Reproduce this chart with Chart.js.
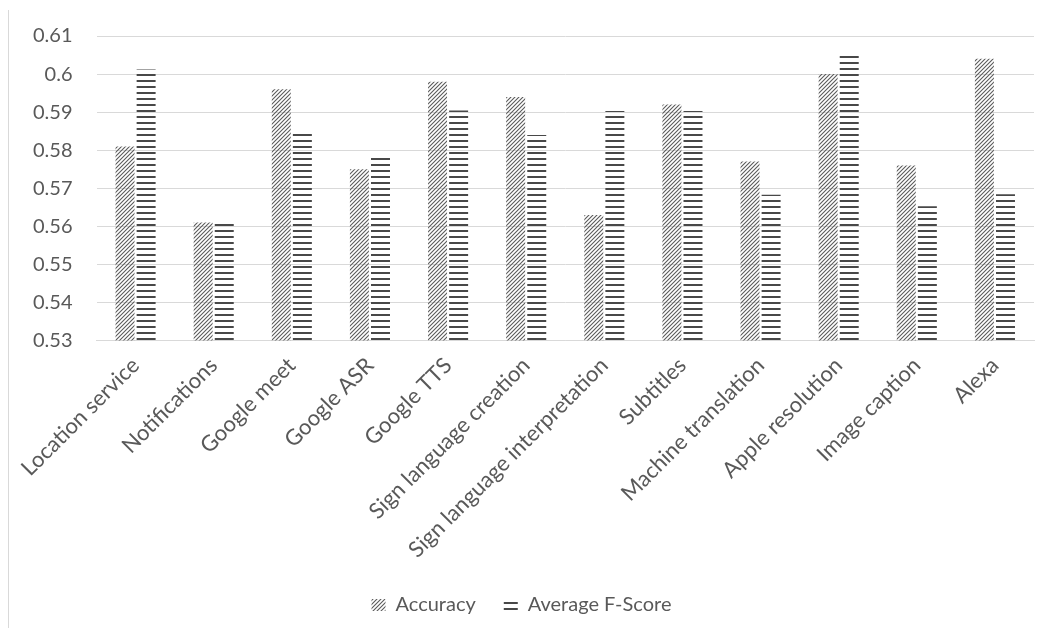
<!DOCTYPE html>
<html>
<head>
<meta charset="utf-8">
<script src="https://cdn.jsdelivr.net/npm/chart.js@4/dist/chart.umd.min.js"></script>
<style>
  html, body { margin: 0; padding: 0; background: #fff; }
  #wrap { position: relative; width: 1043px; height: 628px; }
  #edge { position: absolute; left: 8px; top: 10px; width: 1px; height: 618px; background: #d9d9d9; }
</style>
</head>
<body>
<div id="wrap">
  <div id="edge"></div>
  <canvas id="result-chart" width="1043" height="628"></canvas>
</div>
<script>
var categories = ['Location service', 'Notifications', 'Google meet', 'Google ASR', 'Google TTS',
  'Sign language creation', 'Sign language interpretation', 'Subtitles', 'Machine translation',
  'Apple resolution', 'Image caption', 'Alexa'];
var accuracy = [0.581, 0.561, 0.596, 0.575, 0.598, 0.594, 0.563, 0.592, 0.577, 0.600, 0.576, 0.604];
var fScore   = [0.6012, 0.5608, 0.585, 0.578, 0.5904, 0.584, 0.5903, 0.5903, 0.5683, 0.6058, 0.5653, 0.5684];
var yTicks = [0.53, 0.54, 0.55, 0.56, 0.57, 0.58, 0.59, 0.6, 0.61];

// hatch fills like the excel patterns
function diagPattern(){
  var c = document.createElement('canvas');
  c.width = 4; c.height = 4;
  var g = c.getContext('2d');
  g.strokeStyle = '#5a5a5a';
  g.lineWidth = 1.1;
  g.beginPath();
  g.moveTo(-1, 5); g.lineTo(5, -1);
  g.moveTo(-1, 1); g.lineTo(1, -1);
  g.moveTo(3, 5); g.lineTo(5, 3);
  g.stroke();
  return g.createPattern(c, 'repeat');
}
function stripePattern(){
  var c = document.createElement('canvas');
  c.width = 6; c.height = 6;
  var g = c.getContext('2d');
  g.fillStyle = '#484848';
  g.fillRect(0, 2, 6, 2);
  return g.createPattern(c, 'repeat');
}

Chart.defaults.font.family = 'Lato, "Open Sans", sans-serif';
Chart.defaults.color = '#595959';

var ctx = document.getElementById('result-chart').getContext('2d');
var chart = new Chart(ctx, {
  type: 'bar',
  data: {
    labels: categories,
    datasets: [{
      label: 'Accuracy',
      data: accuracy,
      backgroundColor: diagPattern(),
      borderWidth: 0,
      barPercentage: 0.9,
      categoryPercentage: 0.54
    }, {
      label: 'Average F-Score',
      data: fScore,
      backgroundColor: stripePattern(),
      borderWidth: 0,
      barPercentage: 0.9,
      categoryPercentage: 0.54
    }]
  },
  options: {
    responsive: false,
    animation: false,
    layout: { padding: { left: 9, right: 9, top: 16, bottom: 3 } },
    scales: {
      x: {
        grid: { display: false },
        border: { color: '#d9d9d9' },
        ticks: { minRotation: 45, maxRotation: 45, font: { size: 22 }, padding: 4 }
      },
      y: {
        min: 0.53,
        max: 0.61,
        afterBuildTicks: function(axis){
          axis.ticks = yTicks.map(function(v){ return { value: v }; });
        },
        grid: { color: '#d9d9d9', drawTicks: false },
        border: { display: false },
        ticks: {
          font: { size: 20 },
          padding: 24,
          callback: function(v){ return String(+v.toFixed(2)); }
        }
      }
    },
    plugins: {
      tooltip: { enabled: false },
      legend: {
        position: 'bottom',
        labels: { font: { size: 20 }, boxWidth: 14, boxHeight: 12, padding: 28 }
      }
    }
  }
});
</script>
</body>
</html>
